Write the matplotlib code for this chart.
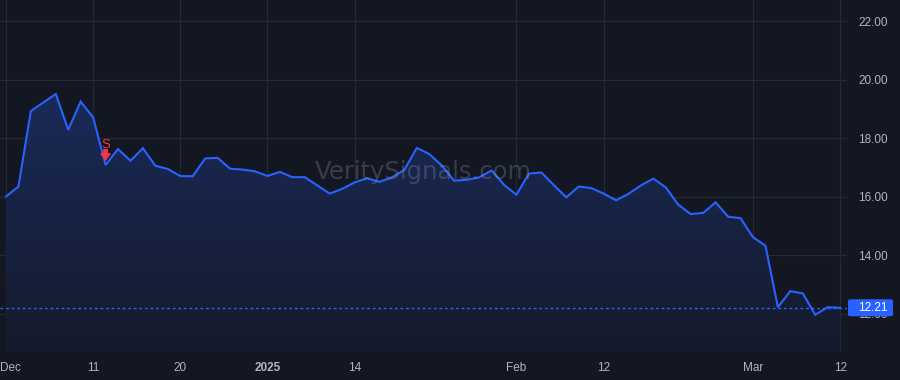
import matplotlib
matplotlib.use("Agg")
import matplotlib.pyplot as plt
import matplotlib.transforms as mtransforms
from matplotlib.patches import FancyBboxPatch, Polygon
import numpy as np

# daily closes, one per trading day (Dec 2 2024 .. Mar 12 2025)
prices = [16.01, 16.35, 18.93, 19.22, 19.51, 18.29, 19.25, 18.71, 17.09, 17.63,
          17.23, 17.66, 17.06, 16.95, 16.71, 16.70, 17.31, 17.33, 16.96, 16.93,
          16.87, 16.71, 16.85, 16.67, 16.67, 16.39, 16.11, 16.27, 16.49, 16.63,
          16.51, 16.66, 16.92, 17.67, 17.46, 17.07, 16.55, 16.58, 16.66, 16.90,
          16.41, 16.07, 16.79, 16.83, 16.40, 15.98, 16.35, 16.30, 16.11, 15.88,
          16.10, 16.39, 16.62, 16.32, 15.73, 15.41, 15.45, 15.81, 15.32, 15.27,
          14.62, 14.33, 12.23, 12.78, 12.70, 11.97, 12.23, 12.21]
last_price = 12.21

# x-axis labels at trading-day index
xtick_pos = [0, 7, 14, 21, 28, 41, 48, 60, 67]
xtick_labels = ["Dec", "11", "20", "2025", "14", "Feb", "12", "Mar", "12"]
ytick_vals = [12, 14, 16, 18, 20, 22]

signal_idx = 8   # sell marker
signal_label = "S"

BG = "#131722"
LINE = "#2962ff"
GRID = "#262a35"
TXT = "#b2b5be"
RED = "#f23645"

plt.rcParams['font.family'] = ['Liberation Sans', 'DejaVu Sans']

fig = plt.figure(figsize=(9, 3.8), dpi=100, facecolor=BG)
ax = fig.add_axes([0, 28 / 380, 847 / 900, 352 / 380])
ax.set_facecolor(BG)

x = np.arange(len(prices))
y = np.array(prices)

ylo, yhi = 10.70, 22.72
ax.set_xlim(-0.48, 67.55)
ax.set_ylim(ylo, yhi)

# gradient fill under the line
grad = np.linspace(0, 1, 256).reshape(-1, 1)
cmap = matplotlib.colors.LinearSegmentedColormap.from_list(
    "fill", ["#151b2d", "#1a2a58"])
im = ax.imshow(grad, extent=[x[0], x[-1], ylo, y.max()], origin="lower",
               aspect="auto", cmap=cmap, zorder=1)
verts = np.vstack([[x[0], ylo], np.column_stack([x, y]), [x[-1], ylo]])
clip = Polygon(verts, closed=True, facecolor="none", edgecolor="none",
               transform=ax.transData)
ax.add_patch(clip)
im.set_clip_path(clip)

ax.plot(x, y, color=LINE, lw=1.5, zorder=4, solid_joinstyle="miter")

# last price dotted line
ax.axhline(last_price, color=LINE, lw=1, ls=(0, (2, 2)), zorder=3)

# grid
ax.set_xticks(xtick_pos)
ax.set_xticklabels(xtick_labels)
ax.set_yticks(ytick_vals)
ax.set_yticklabels([f"{v:.2f}" for v in ytick_vals])
ax.grid(True, color=GRID, lw=0.8, zorder=0)
ax.set_axisbelow(True)
for s in ax.spines.values():
    s.set_visible(False)
ax.yaxis.tick_right()
ax.tick_params(axis="y", length=0, pad=8, labelsize=8.5, labelcolor=TXT)
ax.tick_params(axis="x", length=0, pad=7, labelsize=8.5, labelcolor=TXT)
xlbls = ax.get_xticklabels()
for lbl in xlbls:
    if lbl.get_text() == "2025":
        lbl.set_fontweight("bold")
# first label sits flush against the left edge
xlbls[0].set_horizontalalignment("left")
xlbls[0].set_transform(xlbls[0].get_transform() +
                       mtransforms.ScaledTranslation(-6 / 100, 0, fig.dpi_scale_trans))

# watermark
ax.text(0.5, 0.51, "VeritySignals.com", transform=ax.transAxes, ha="center",
        va="center", fontsize=17.5, color="#9aa0b0", alpha=0.28,
        family="DejaVu Sans", zorder=5)

# sell signal marker
sig_y = prices[signal_idx]
ax.annotate("", xy=(signal_idx, sig_y), xycoords="data",
            xytext=(0, 11), textcoords="offset points",
            arrowprops=dict(arrowstyle="simple,head_width=0.65,head_length=0.45,tail_width=0.25",
                            color=RED, shrinkA=0, shrinkB=3.5), zorder=6)
ax.annotate(signal_label, xy=(signal_idx, sig_y), xycoords="data",
            xytext=(0, 12.5), textcoords="offset points", ha="center",
            va="baseline", color=RED, fontsize=9.5, zorder=6)

# last price box on right axis
yfrac = (last_price - ylo) / (yhi - ylo)
hb = 17 / 352
box = FancyBboxPatch((1 + 1 / 847, yfrac - hb / 2), 45 / 847, hb,
                     boxstyle="round,pad=0,rounding_size=0.004",
                     transform=ax.transAxes, facecolor=LINE, edgecolor="none",
                     clip_on=False, zorder=10)
ax.add_patch(box)
ax.text(1 + 11 / 847, yfrac, f"{last_price:.2f}", transform=ax.transAxes,
        ha="left", va="center", color="white", fontsize=8.5, zorder=11,
        clip_on=False)

fig.savefig("out.png", dpi=100, facecolor=BG)
